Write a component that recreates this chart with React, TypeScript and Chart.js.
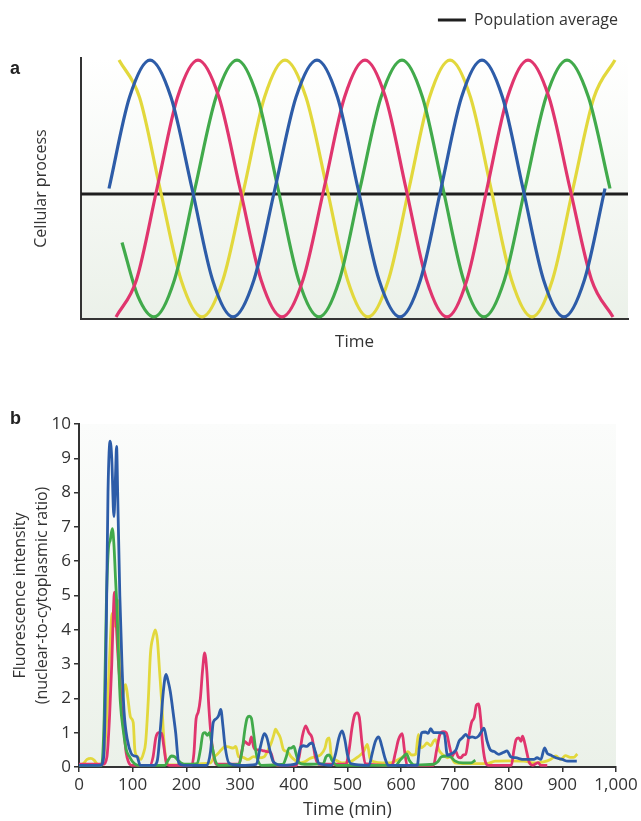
import React, { useEffect, useRef } from "react";
import { Chart, registerables } from "chart.js";

Chart.register(...registerables);

const FONT = "'Open Sans', 'Noto Sans', sans-serif";
const TEXT = "#333333";
const AXIS = "#333333";
const BLUE = "#2d5ca8";
const RED = "#e0356e";
const GREEN = "#41aa4b";
const YELLOW = "#e2d83c";
const AVERAGE = "#1e1e1e";

// ---------- Panel a: schematic oscillations (time in arbitrary units) ----------
const schematicRange = [0, 547];
const schematicLevelRange = [-1.016, 1.016];
const aBlueTime = [28, 48.5, 69, 90, 111, 131.5, 152, 173, 194, 215, 236, 256.5, 277, 298, 319, 339.5, 360, 380.5, 401, 421.5, 442, 462.5, 483, 503.5, 524];
const aBlueLevel = [0, 0.71, 1, 0.71, 0, -0.71, -1, -0.71, 0, 0.71, 1, 0.71, 0, -0.71, -1, -0.71, 0, 0.71, 1, 0.71, 0, -0.71, -1, -0.71, 0];
const aRedTime = [35, 55.5, 76, 96.5, 117, 138, 159, 180, 201, 222, 243, 263.5, 284, 304.5, 325, 345.5, 366, 386, 406, 426.5, 447, 468, 489, 510.5, 532];
const aRedLevel = [-1, -0.71, 0, 0.71, 1, 0.71, 0, -0.71, -1, -0.71, 0, 0.71, 1, 0.71, 0, -0.71, -1, -0.71, 0, 0.71, 1, 0.71, 0, -0.71, -1];
const aGreenTime = [41, 57, 73, 93.5, 114, 135, 156, 176.5, 197, 217.5, 238, 258.5, 279, 300, 321, 341.5, 362, 382.5, 403, 423.5, 444, 465, 486, 507.5, 529];
const aGreenLevel = [-0.42, -0.84, -1, -0.71, 0, 0.71, 1, 0.71, 0, -0.71, -1, -0.71, 0, 0.71, 1, 0.71, 0, -0.71, -1, -0.71, 0, 0.71, 1, 0.71, 0];
const aYellowTime = [38, 58.5, 79, 100, 121, 142, 163, 183.5, 204, 225, 246, 266.5, 287, 307.5, 328, 348.5, 369, 389.5, 410, 430.5, 451, 471.5, 492, 513, 534];
const aYellowLevel = [1, 0.71, 0, -0.71, -1, -0.71, 0, 0.71, 1, 0.71, 0, -0.71, -1, -0.71, 0, 0.71, 1, 0.71, 0, -0.71, -1, -0.71, 0, 0.71, 1];
const populationAverage = -0.043;

// ---------- Panel b: single-cell traces ----------
const timeTicks = [0, 100, 200, 300, 400, 500, 600, 700, 800, 900, 1000];
const intensityTicks = [0, 1, 2, 3, 4, 5, 6, 7, 8, 9, 10];

const blueTime = [0, 20, 40, 46, 50, 54, 58, 61, 65, 68, 70, 72, 76, 80, 84, 90, 97, 103, 108, 114, 140, 146, 152, 157, 162, 166, 170, 176, 180, 186, 195, 238, 245, 250, 255, 260, 264, 268, 272, 280, 300, 330, 338, 345, 350, 356, 362, 380, 405, 412, 418, 424, 430, 434, 440, 447, 470, 478, 484, 490, 495, 500, 506, 540, 546, 552, 558, 564, 570, 576, 630, 634, 638, 645, 650, 655, 660, 670, 680, 686, 695, 702, 708, 714, 720, 726, 732, 738, 744, 750, 754, 760, 766, 773, 782, 791, 797, 804, 813, 829, 847, 853, 860, 867, 872, 878, 888, 900, 910, 920, 927];
const blueIntensity = [0.05, 0.05, 0.05, 0.3, 3.0, 8.0, 9.5, 9.0, 7.3, 8.5, 9.35, 8.0, 5.0, 3.0, 1.6, 0.8, 0.4, 0.32, 0.3, 0.05, 0.05, 0.2, 1.2, 2.2, 2.7, 2.5, 2.2, 1.5, 1.0, 0.1, 0.05, 0.05, 0.46, 1.3, 1.4, 1.5, 1.68, 1.2, 0.6, 0.1, 0.05, 0.08, 0.6, 0.97, 0.85, 0.45, 0.15, 0.05, 0.1, 0.55, 0.62, 0.6, 0.68, 0.7, 0.45, 0.1, 0.05, 0.4, 0.85, 1.05, 0.8, 0.35, 0.1, 0.05, 0.4, 0.75, 0.88, 0.6, 0.25, 0.05, 0.05, 0.6, 1.0, 1.02, 0.98, 1.12, 1.0, 1.0, 0.98, 0.35, 0.4, 0.5, 0.76, 0.85, 0.95, 0.85, 0.88, 0.85, 0.9, 1.05, 1.13, 0.75, 0.5, 0.45, 0.37, 0.43, 0.47, 0.3, 0.27, 0.22, 0.22, 0.27, 0.22, 0.56, 0.4, 0.35, 0.27, 0.22, 0.17, 0.17, 0.17];

const redTime = [0, 30, 45, 52, 57, 61, 64, 66, 69, 72, 76, 80, 84, 88, 92, 98, 132, 138, 143, 148, 154, 158, 163, 168, 210, 214, 218, 222, 226, 230, 234, 238, 242, 246, 250, 255, 298, 303, 308, 312, 317, 321, 325, 330, 336, 342, 350, 357, 363, 370, 405, 410, 416, 422, 428, 434, 440, 446, 497, 503, 508, 513, 518, 522, 527, 533, 583, 589, 595, 602, 606, 611, 660, 666, 672, 678, 684, 690, 695, 701, 706, 711, 716, 720, 726, 731, 736, 740, 744, 748, 751, 756, 762, 805, 810, 814, 819, 823, 826, 830, 834, 838, 845, 855, 860, 872];
const redIntensity = [0.08, 0.08, 0.08, 0.3, 1.5, 3.0, 4.5, 5.1, 4.3, 3.4, 2.5, 1.6, 1.0, 0.4, 0.15, 0.05, 0.05, 0.3, 0.85, 1.0, 0.98, 0.6, 0.1, 0.05, 0.05, 0.4, 1.4, 1.6, 2.0, 2.8, 3.33, 2.8, 1.7, 0.9, 0.4, 0.08, 0.08, 0.45, 0.75, 0.7, 0.65, 0.88, 0.6, 0.5, 0.5, 0.48, 0.45, 0.42, 0.12, 0.05, 0.05, 0.3, 0.9, 1.2, 1.0, 0.85, 0.3, 0.08, 0.08, 0.5, 1.1, 1.5, 1.58, 1.45, 0.7, 0.1, 0.05, 0.4, 0.8, 0.97, 0.5, 0.05, 0.05, 0.5, 0.95, 1.03, 1.0, 0.6, 0.32, 0.47, 0.3, 0.27, 0.35, 0.37, 0.9, 1.3, 1.45, 1.8, 1.84, 1.4, 0.76, 0.2, 0.05, 0.05, 0.5, 0.8, 0.85, 0.75, 0.9, 0.7, 0.42, 0.15, 0.05, 0.13, 0.05, 0.05];

const greenTime = [0, 42, 47, 51, 55, 58, 62, 65, 68, 71, 74, 77, 83, 88, 94, 100, 110, 160, 166, 172, 178, 184, 190, 200, 220, 226, 231, 235, 239, 243, 248, 254, 260, 298, 304, 309, 313, 317, 321, 325, 329, 333, 340, 380, 386, 391, 395, 400, 404, 410, 420, 455, 460, 466, 471, 480, 590, 598, 604, 610, 615, 625, 660, 668, 675, 685, 692, 700, 715, 730, 738];
const greenIntensity = [0.05, 0.05, 1.5, 4.8, 6.4, 6.6, 6.95, 6.5, 5.5, 4.5, 3.0, 1.9, 1.0, 0.5, 0.3, 0.15, 0.05, 0.05, 0.2, 0.32, 0.3, 0.2, 0.12, 0.08, 0.1, 0.5, 0.98, 1.0, 0.92, 1.0, 0.6, 0.17, 0.05, 0.08, 0.5, 1.1, 1.42, 1.48, 1.42, 1.0, 0.5, 0.2, 0.05, 0.08, 0.3, 0.55, 0.55, 0.6, 0.4, 0.12, 0.08, 0.1, 0.3, 0.35, 0.2, 0.05, 0.05, 0.2, 0.3, 0.38, 0.2, 0.06, 0.08, 0.15, 0.3, 0.32, 0.3, 0.18, 0.12, 0.12, 0.2];

const yellowTime = [0, 8, 15, 22, 28, 34, 40, 46, 52, 57, 61, 64, 67, 70, 73, 76, 80, 84, 87, 91, 96, 101, 104, 109, 115, 120, 124, 129, 133, 138, 142, 146, 150, 154, 158, 162, 168, 200, 230, 245, 252, 258, 265, 272, 280, 287, 292, 297, 305, 315, 325, 335, 345, 352, 358, 363, 366, 370, 375, 381, 388, 395, 402, 410, 420, 430, 440, 450, 458, 462, 466, 470, 478, 490, 505, 520, 530, 537, 542, 550, 565, 580, 592, 605, 612, 620, 627, 632, 637, 643, 648, 655, 660, 664, 670, 678, 686, 692, 700, 720, 740, 760, 775, 800, 828, 850, 865, 878, 888, 897, 906, 915, 921, 928];
const yellowIntensity = [0.05, 0.1, 0.22, 0.25, 0.2, 0.08, 0.05, 0.3, 1.5, 3.2, 4.4, 4.5, 4.1, 4.6, 4.85, 3.0, 1.95, 2.3, 2.4, 2.0, 1.45, 1.3, 0.5, 0.3, 0.22, 0.4, 0.7, 1.95, 3.3, 3.8, 4.0, 3.7, 2.8, 1.9, 0.8, 0.2, 0.06, 0.06, 0.1, 0.12, 0.3, 0.38, 0.5, 0.6, 0.58, 0.55, 0.6, 0.3, 0.28, 0.22, 0.3, 0.27, 0.3, 0.5, 0.7, 0.95, 1.1, 1.0, 0.85, 0.5, 0.45, 0.3, 0.2, 0.12, 0.15, 0.25, 0.3, 0.36, 0.55, 0.8, 0.85, 0.3, 0.2, 0.12, 0.15, 0.3, 0.45, 0.66, 0.25, 0.15, 0.12, 0.12, 0.2, 0.32, 0.45, 0.35, 0.37, 0.95, 0.56, 0.62, 0.7, 0.62, 0.75, 0.8, 0.5, 0.35, 0.27, 0.3, 0.12, 0.1, 0.1, 0.1, 0.17, 0.18, 0.17, 0.12, 0.15, 0.22, 0.32, 0.22, 0.33, 0.28, 0.28, 0.38];

function toPoints(xs: number[], ys: number[]) {
  return xs.map((x, i) => ({ x, y: ys[i] }));
}

function backgroundPlugin(topColor: string, bottomColor: string) {
  return {
    id: "panelBackground",
    beforeDraw(chart: any) {
      const { ctx, chartArea: a } = chart;
      const g = ctx.createLinearGradient(0, a.top, 0, a.bottom);
      g.addColorStop(0, topColor);
      g.addColorStop(1, bottomColor);
      ctx.save();
      ctx.fillStyle = g;
      ctx.fillRect(a.left, a.top, a.right - a.left, a.bottom - a.top);
      ctx.restore();
    },
  };
}

const legendGap = {
  id: "legendGap",
  beforeInit(chart: any) {
    const legend = chart.legend;
    if (!legend) return;
    const fit = legend.fit;
    legend.fit = function () {
      fit.call(this);
      this.height += 20;
    };
  },
};

function PanelA() {
  const ref = useRef<HTMLCanvasElement>(null);
  useEffect(() => {
    if (!ref.current) return;
    const line = (label: string, color: string, xs: number[], ys: number[]) => ({
      label,
      data: toPoints(xs, ys),
      borderColor: color,
      backgroundColor: color,
      borderWidth: 3.2,
      pointRadius: 0,
      cubicInterpolationMode: "monotone",
      fill: false,
    });
    const chart = new Chart(ref.current, {
      type: "line",
      data: {
        datasets: [
          line("Cell 1", BLUE, aBlueTime, aBlueLevel),
          line("Cell 2", RED, aRedTime, aRedLevel),
          line("Cell 3", GREEN, aGreenTime, aGreenLevel),
          line("Cell 4", YELLOW, aYellowTime, aYellowLevel),
          {
            label: "Population average",
            data: toPoints(schematicRange, [populationAverage, populationAverage]),
            borderColor: AVERAGE,
            backgroundColor: AVERAGE,
            borderWidth: 3,
            pointRadius: 0,
            tension: 0,
            fill: false,
          },
        ],
      },
      options: {
        animation: false,
        responsive: false,
        layout: { padding: { left: 0, right: 13, top: 2, bottom: 0 } },
        plugins: {
          tooltip: { enabled: false },
          legend: {
            display: true,
            position: "top",
            align: "end",
            labels: {
              boxWidth: 28,
              boxHeight: 3,
              padding: 10,
              color: TEXT,
              font: { family: FONT, size: 16 },
              generateLabels: () => [
                {
                  text: "Population average",
                  fillStyle: AVERAGE,
                  strokeStyle: AVERAGE,
                  lineWidth: 0,
                  hidden: false,
                  datasetIndex: 4,
                  fontColor: TEXT,
                } as any,
              ],
            },
          },
        },
        scales: {
          x: {
            type: "linear",
            min: schematicRange[0],
            max: schematicRange[1],
            ticks: { display: false },
            grid: { display: false },
            border: { display: true, color: AXIS, width: 2 },
            title: {
              display: true,
              text: "Time",
              color: TEXT,
              font: { family: FONT, size: 17 },
              padding: { top: 0, bottom: 8 },
            },
            afterFit(s: any) {
              s.height = 41;
            },
          },
          y: {
            type: "linear",
            min: schematicLevelRange[0],
            max: schematicLevelRange[1],
            ticks: { display: false },
            grid: { display: false },
            border: { display: true, color: AXIS, width: 2 },
            title: {
              display: true,
              text: "Cellular process",
              color: TEXT,
              font: { family: FONT, size: 16 },
              padding: { top: 32, bottom: 0 },
            },
            afterFit(s: any) {
              s.width = 81;
            },
          },
        },
      },
      plugins: [backgroundPlugin("#ffffff", "#ebf1e9"), legendGap],
    } as any);
    return () => chart.destroy();
  }, []);
  return (
    <canvas
      ref={ref}
      width={641}
      height={360}
      style={{ position: "absolute", left: 0, top: 0, width: 641, height: 360 }}
    />
  );
}

function PanelB() {
  const ref = useRef<HTMLCanvasElement>(null);
  useEffect(() => {
    if (!ref.current) return;
    const trace = (label: string, color: string, xs: number[], ys: number[]) => ({
      label,
      data: toPoints(xs, ys),
      borderColor: color,
      backgroundColor: color,
      borderWidth: 2.8,
      pointRadius: 0,
      cubicInterpolationMode: "monotone",
      fill: false,
    });
    const chart = new Chart(ref.current, {
      type: "line",
      data: {
        datasets: [
          trace("Cell 1", BLUE, blueTime, blueIntensity),
          trace("Cell 3", GREEN, greenTime, greenIntensity),
          trace("Cell 2", RED, redTime, redIntensity),
          trace("Cell 4", YELLOW, yellowTime, yellowIntensity),
        ],
      },
      options: {
        animation: false,
        responsive: false,
        layout: { padding: { left: 0, right: 25, top: 24, bottom: 0 } },
        plugins: { legend: { display: false }, tooltip: { enabled: false } },
        scales: {
          x: {
            type: "linear",
            min: timeTicks[0],
            max: timeTicks[timeTicks.length - 1],
            afterBuildTicks(s: any) {
              s.ticks = timeTicks.map((v) => ({ value: v }));
            },
            ticks: {
              autoSkip: false,
              maxRotation: 0,
              color: TEXT,
              padding: 3,
              font: { family: FONT, size: 17 },
              callback: (v: any) => Number(v).toLocaleString("en-US"),
            },
            grid: { drawOnChartArea: false, drawTicks: true, tickLength: 5, color: AXIS, lineWidth: 1.5 },
            border: { display: true, color: AXIS, width: 2 },
            title: {
              display: true,
              text: "Time (min)",
              color: TEXT,
              font: { family: FONT, size: 18 },
              padding: { top: 0, bottom: 0 },
            },
            afterFit(s: any) {
              s.height = 54;
            },
          },
          y: {
            type: "linear",
            min: intensityTicks[0],
            max: intensityTicks[intensityTicks.length - 1],
            afterBuildTicks(s: any) {
              s.ticks = intensityTicks.map((v) => ({ value: v }));
            },
            ticks: {
              color: TEXT,
              padding: 3,
              font: { family: FONT, size: 17 },
            },
            grid: { drawOnChartArea: false, drawTicks: true, tickLength: 5, color: AXIS, lineWidth: 1.5 },
            border: { display: true, color: AXIS, width: 2 },
            title: {
              display: true,
              text: ["Fluorescence intensity", "(nuclear-to-cytoplasmic ratio)"],
              color: TEXT,
              font: { family: FONT, size: 16, lineHeight: 1.4 },
              padding: { top: 9, bottom: 0 },
            },
            afterFit(s: any) {
              s.width = 79;
            },
          },
        },
      },
      plugins: [backgroundPlugin("#fbfcfb", "#ebf1e9")],
    } as any);
    return () => chart.destroy();
  }, []);
  return (
    <canvas
      ref={ref}
      width={641}
      height={421}
      style={{ position: "absolute", left: 0, top: 400, width: 641, height: 421 }}
    />
  );
}

const panelLetter: React.CSSProperties = {
  position: "absolute",
  left: 10,
  fontFamily: "'Liberation Sans', Arial, sans-serif",
  fontWeight: 700,
  fontSize: 18,
  lineHeight: "20px",
  color: "#222",
};

export default function App() {
  return (
    <div
      style={{
        position: "absolute",
        left: 0,
        top: 0,
        width: 641,
        height: 821,
        overflow: "hidden",
        background: "#ffffff",
      }}
    >
      <PanelA />
      <PanelB />
      <div style={{ ...panelLetter, top: 58 }}>a</div>
      <div style={{ ...panelLetter, top: 408 }}>b</div>
    </div>
  );
}
